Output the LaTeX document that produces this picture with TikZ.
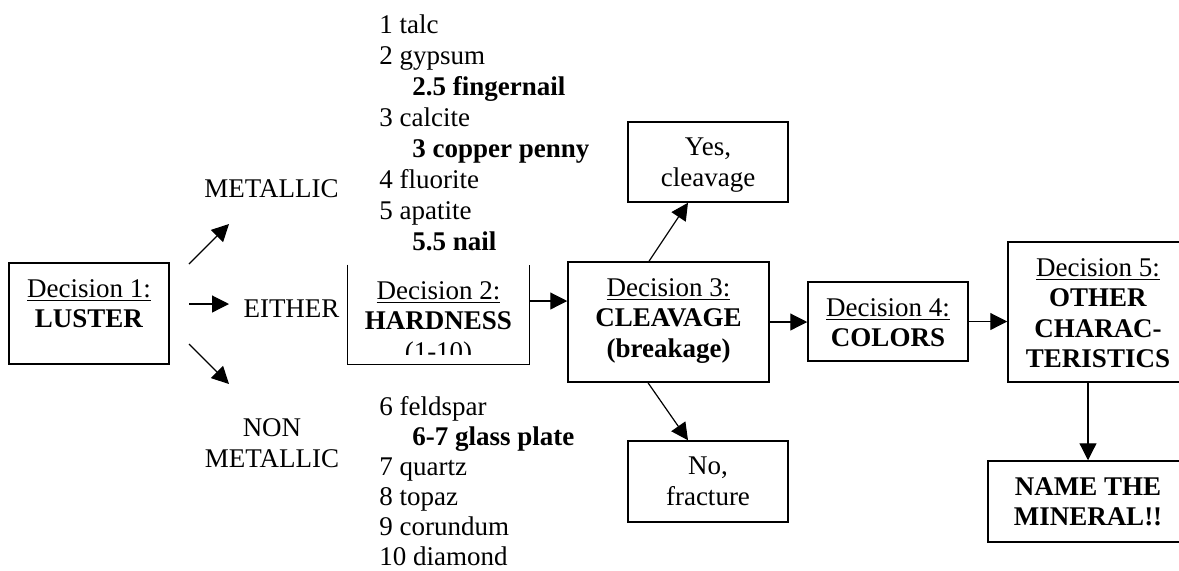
\documentclass[tikz,border=0pt]{standalone}
\usepackage{fontspec}
\setmainfont{Liberation Serif}
\usetikzlibrary{positioning,arrows.meta}

\begin{document}
\begin{tikzpicture}[x=0.5pt, y=-0.5pt,
    font=\fontsize{13.5pt}{15.25pt}\selectfont,
    box/.style={draw, line width=0.75pt, inner sep=0pt},
    boxtext/.style={inner sep=0pt, align=center},
    listtext/.style={inner sep=0pt, align=left, anchor=north west},
    arr/.style={-{Triangle[length=8.5pt,width=8.5pt]}, line width=0.6pt}]
    % Page size
    \useasboundingbox (0,0) rectangle (1179,570);
    \clip (0,0) rectangle (1179,570);

    % Draw the decision boxes
    \node[box, minimum width=80pt, minimum height=50.5pt] (luster) at (89,313.5) {};
    \node[inner sep=0pt, minimum width=90.5pt, minimum height=49.5pt] (hardness) at (438.5,314.5) {};
    \draw[line width=0.75pt] (hardness.north west) -- (hardness.south west) -- (hardness.south east) -- (hardness.north east);
    \node[box, minimum width=100.5pt, minimum height=60pt] (cleavage) at (668.5,322) {};
    \node[box, minimum width=80pt, minimum height=40pt] (yes) at (708,162) {};
    \node[box, minimum width=80pt, minimum height=40.5pt] (no) at (708,481.5) {};
    \node[box, minimum width=80pt, minimum height=39.5pt] (colors) at (888,321.5) {};
    \node[box, minimum width=90pt, minimum height=70pt] (other) at (1098,312) {};
    \node[box, minimum width=100pt, minimum height=40.5pt] (mineral) at (1088,501.5) {};

    % Text in the boxes
    \node[boxtext, below=8.3pt of luster.north] (luster-t) {\underline{Decision 1:}\\\textbf{LUSTER}};
    \begin{scope}
        \clip (hardness.north west) rectangle ([yshift=5pt]hardness.south east);
        \node[boxtext, below=8.3pt of hardness.north] (hardness-t) {\underline{Decision 2:}\\\textbf{HARDNESS}\\(1-10)};
    \end{scope}
    \node[boxtext, below=8.3pt of cleavage.north] (cleavage-t) {\underline{Decision 3:}\\\textbf{CLEAVAGE}\\\textbf{(breakage)}};
    \node[boxtext, below=8.3pt of yes.north] (yes-t) {Yes,\\cleavage};
    \node[boxtext, below=8.3pt of no.north] (no-t) {No,\\fracture};
    \node[boxtext, below=8.3pt of colors.north] (colors-t) {\underline{Decision 4:}\\\textbf{COLORS}};
    \node[boxtext, below=8.3pt of other.north] (other-t) {\underline{Decision 5:}\\\textbf{OTHER}\\\textbf{CHARAC-}\\\textbf{TERISTICS}};
    \node[boxtext, below=8.3pt of mineral.north] (mineral-t) {\textbf{NAME THE}\\\textbf{MINERAL!!}};

    % Luster choices
    \foreach \s/\n in {-1/metal, 0/either, 1/nonmetal} {
        \coordinate (\n-start) at (189,304+40*\s);
        \coordinate (\n-end) at (229,304+80*\s);
        \draw[arr] (\n-start) -- (\n-end);
    }
    \node[inner sep=0pt, anchor=base] (metallic) at (271.5,197) {METALLIC};
    \node[inner sep=0pt, anchor=base] (eithertext) at (291.5,317) {EITHER};
    \node[boxtext, anchor=north, font=\fontsize{13.5pt}{15.5pt}\selectfont] (nonmetallic) at (272,418) {NON\\METALLIC};

    % Hardness scale
    \node[listtext, font=\fontsize{13.5pt}{15.5pt}\selectfont] (scale-soft) at (379,14.6)
        {1 talc\\2 gypsum\\\hspace*{16.5pt}\textbf{2.5 fingernail}\\3 calcite\\
         \hspace*{16.5pt}\textbf{3 copper penny}\\4 fluorite\\5 apatite\\\hspace*{16.5pt}\textbf{5.5 nail}};
    \node[listtext, font=\fontsize{13.5pt}{15pt}\selectfont] (scale-hard) at (379,395.6)
        {6 feldspar\\\hspace*{16.5pt}\textbf{6-7 glass plate}\\7 quartz\\8 topaz\\9 corundum\\10 diamond};

    % Connectors
    \coordinate (hardness-out) at ([yshift=6.75pt]hardness.east);
    \draw[arr] (hardness-out) -- (hardness-out -| cleavage.west);
    \draw[arr] ([xshift=-9.75pt]cleavage.north) -- ([xshift=-10pt]yes.south);
    \draw[arr] ([xshift=-10.25pt]cleavage.south) -- ([xshift=-10pt]no.north);
    \draw[arr] (cleavage.east) -- (cleavage.east -| colors.west);
    \draw[arr] (colors.east) -- (colors.east -| other.west);
    \draw[arr] ([xshift=-5pt]other.south) -- (mineral.north);
\end{tikzpicture}
\end{document}
